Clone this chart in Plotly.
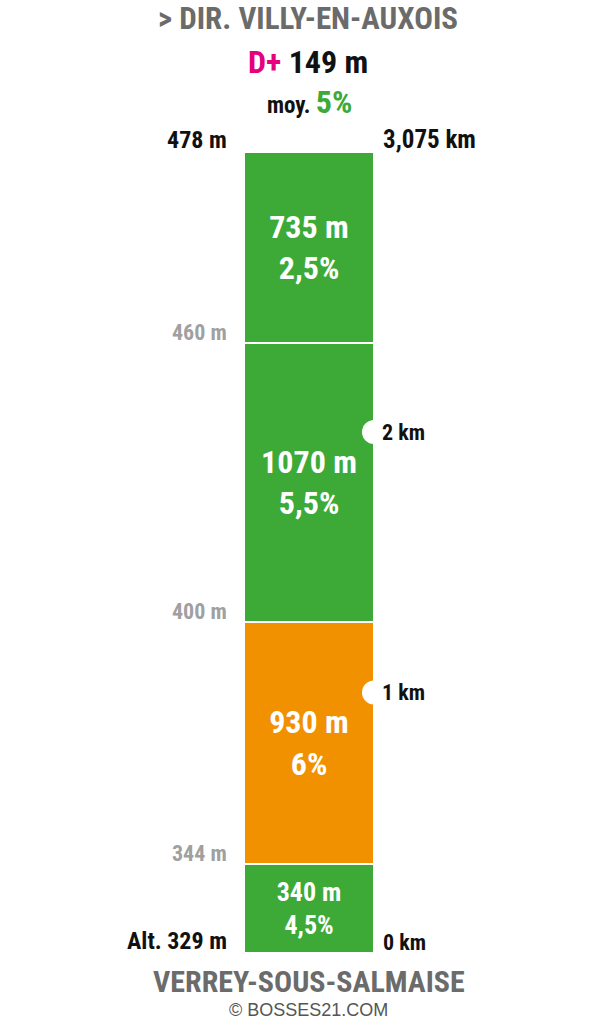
import plotly.graph_objects as go

# ---- data ----
seg_lengths = [340, 930, 1070, 735]          # metres, from bottom to top
seg_grades = ["4,5%", "6%", "5,5%", "2,5%"]
seg_colors = ["#3DAA37", "#F29100", "#3DAA37", "#3DAA37"]
seg_text_sizes = [26, 32, 32, 32]
altitudes = [329, 344, 400, 460, 478]       # at segment boundaries
km_marks = [1000, 2000]                      # km notches (m)
km_labels = ["1 km", "2 km"]
total_km_label = "3,075 km"
title_top = "&gt; DIR. VILLY-EN-AUXOIS"
title_bottom = "VERREY-SOUS-SALMAISE"
d_plus = 149
avg_grade = "5%"
credit = "© BOSSES21.COM"

FONT = "Roboto Condensed, DejaVu Sans Condensed, Liberation Sans Narrow, Liberation Sans"
total = sum(seg_lengths)
bases = [sum(seg_lengths[:i]) for i in range(len(seg_lengths))]

BAR_X = 309
BAR_W = 130

fig = go.Figure()
fig.add_trace(go.Bar(
    x=[BAR_X] * len(seg_lengths), y=seg_lengths, base=bases, width=BAR_W,
    marker=dict(color=seg_colors, line=dict(color="white", width=2)),
    text=[f"{l} m<br>{g}" for l, g in zip(seg_lengths, seg_grades)],
    textposition="inside", insidetextanchor="middle", constraintext="none",
    textangle=0,
    textfont=dict(family=FONT, color="white", size=seg_text_sizes, weight="bold"),
    hoverinfo="skip", showlegend=False,
))
# white notches at km marks
fig.add_trace(go.Scatter(
    x=[BAR_X + BAR_W / 2] * len(km_marks), y=km_marks, mode="markers",
    marker=dict(color="white", size=24, line=dict(width=0)),
    hoverinfo="skip", showlegend=False,
))

ann = []
# altitude labels (left)
for i, alt in enumerate(altitudes):
    ypos = total if i == len(altitudes) - 1 else bases[i]
    end = i == 0 or i == len(altitudes) - 1
    txt = f"Alt. {alt} m" if i == 0 else f"{alt} m"
    ann.append(dict(x=229, y=ypos, xref="x", yref="y", text=txt, showarrow=False,
                    xanchor="right", yanchor="bottom", yshift=-4,
                    font=dict(family=FONT, weight="bold", size=24 if end else 22,
                              color="#111111" if end else "#A0A0A0")))
# km labels (right)
ann.append(dict(x=381, y=0, xref="x", yref="y", text="0 km", showarrow=False,
                xanchor="left", yanchor="bottom", yshift=-4,
                font=dict(family=FONT, weight="bold", size=22, color="#111111")))
for k, lab in zip(km_marks, km_labels):
    ann.append(dict(x=380, y=k, xref="x", yref="y", text=lab, showarrow=False,
                    xanchor="left", yanchor="middle",
                    font=dict(family=FONT, weight="bold", size=22, color="#111111")))
ann.append(dict(x=381, y=total, xref="x", yref="y", text=total_km_label, showarrow=False,
                xanchor="left", yanchor="bottom", yshift=-4,
                font=dict(family=FONT, weight="bold", size=25, color="#111111")))
# headings
ann.append(dict(x=308, y=18, xref="x", yref="paper", text=title_top, showarrow=False,
                xanchor="center", yanchor="middle",
                font=dict(family=FONT, weight="bold", size=31, color="#6B6B6B")))
ann.append(dict(x=308, y=62, xref="x", yref="paper",
                text=f"<span style='color:#E5007D'>D+</span> {d_plus} m", showarrow=False,
                xanchor="center", yanchor="middle",
                font=dict(family=FONT, weight="bold", size=32, color="#111111")))
ann.append(dict(x=309, y=102, xref="x", yref="paper",
                text=f"moy. <span style='color:#3DAA37;font-size:32px'>{avg_grade}</span>",
                showarrow=False, xanchor="center", yanchor="middle",
                font=dict(family=FONT, weight="bold", size=23, color="#111111")))
ann.append(dict(x=309, y=981, xref="x", yref="paper", text=title_bottom, showarrow=False,
                xanchor="center", yanchor="middle",
                font=dict(family=FONT, weight="bold", size=30, color="#6B6B6B")))
ann.append(dict(x=308, y=1010, xref="x", yref="paper", text=credit, showarrow=False,
                xanchor="center", yanchor="middle",
                font=dict(family="Liberation Sans", size=18, color="#555555")))

# convert paper pixel y to paper fraction
for a in ann:
    if a["yref"] == "paper":
        a["y"] = 1 - a["y"] / 1024

PX_PER_M = (953 - 152) / total
y_top = 953 / PX_PER_M
y_bot = -(1024 - 953) / PX_PER_M

fig.update_layout(
    width=600, height=1024, margin=dict(l=0, r=0, t=0, b=0),
    paper_bgcolor="white", plot_bgcolor="white",
    xaxis=dict(range=[0, 600], visible=False, fixedrange=True),
    yaxis=dict(range=[y_bot, y_top], visible=False, fixedrange=True),
    annotations=ann, bargap=0, barmode="overlay",
)
fig.write_html("out.html", config={"displayModeBar": False},
               post_script="document.body.style.margin='0';document.body.style.overflow='hidden';")
